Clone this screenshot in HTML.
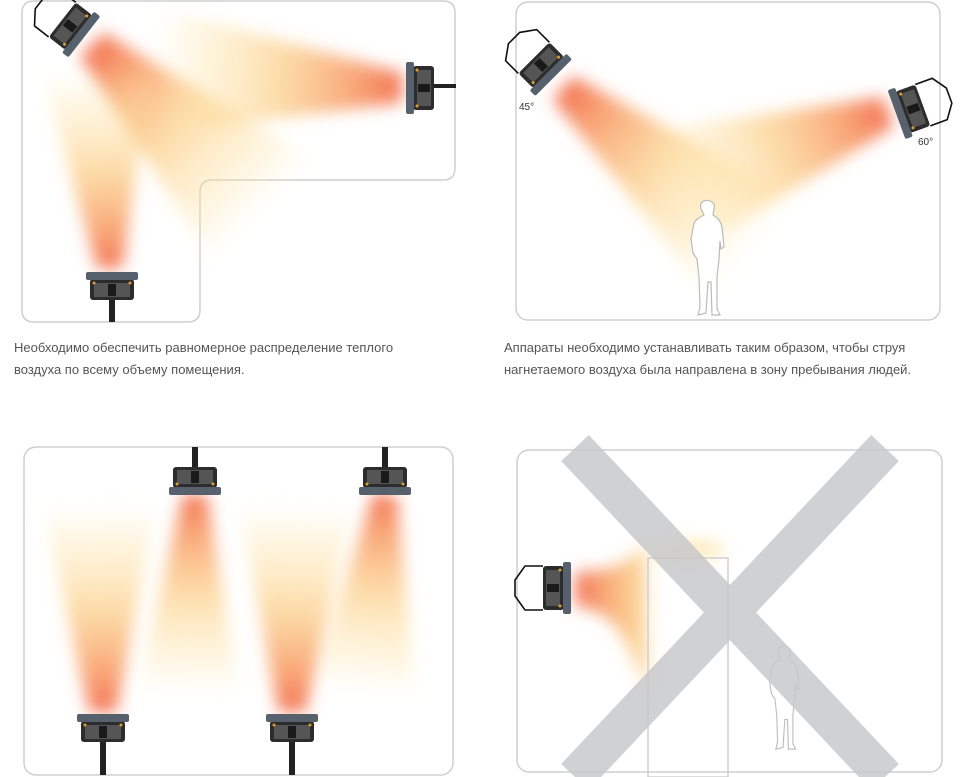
<!DOCTYPE html>
<html><head><meta charset="utf-8"><style>
html,body{margin:0;padding:0;background:#fff;width:976px;height:777px;overflow:hidden}
.cap{position:absolute;font-family:"Liberation Sans",sans-serif;font-size:13px;line-height:22px;color:#555}
</style></head><body>
<svg width="976" height="777" viewBox="0 0 976 777" style="position:absolute;left:0;top:0">
<defs>
<linearGradient id="bg" x1="0" y1="0" x2="1" y2="0">
<stop offset="0" stop-color="#f26340" stop-opacity="0.9"/>
<stop offset="0.2" stop-color="#f78c4e" stop-opacity="0.75"/>
<stop offset="0.5" stop-color="#fbc266" stop-opacity="0.55"/>
<stop offset="0.8" stop-color="#fde2a0" stop-opacity="0.35"/>
<stop offset="1" stop-color="#fdeab0" stop-opacity="0"/>
</linearGradient>
<filter id="bl" x="-30%" y="-30%" width="160%" height="160%"><feGaussianBlur stdDeviation="8"/></filter>
<g id="beam"><polygon points="0,-14 0,14 1,60 1,-60" fill="url(#bg)"/></g>
<g id="heat">
<rect x="-20" y="-22" width="21" height="44" rx="3" fill="#2c2c2c"/>
<rect x="-17" y="-18" width="14" height="36" fill="#555"/>
<rect x="-16" y="-4" width="12" height="8" fill="#1a1a1a"/>
<rect x="0" y="-26" width="8" height="52" rx="2" fill="#56616d"/>
<circle cx="-3" cy="-18" r="1.5" fill="#d9a030"/><circle cx="-3" cy="18" r="1.5" fill="#d9a030"/>
</g>
<g id="brk"><polyline points="-20,-22 -38,-22 -48,-8 -48,8 -38,22 -20,22" fill="none" stroke="#111" stroke-width="1.6"/></g>
<g id="person"><path d="M18,4 C24,2 30,6 28,12 L27,18 C30,20 34,22 36,30 L38,50 L35,52 L34,44 L33,62 L31,80 L31,112 L34,118 L26,118 L25,85 L22,85 L20,116 L12,118 L14,110 L13,80 L11,62 L7,56 L5,42 L8,26 C10,22 14,20 18,18 L15,12 C14,8 15,5 18,4 Z" fill="#fff" stroke="#bbb" stroke-width="1.2"/></g>
</defs>

<!-- Panel 1 -->
<path d="M34,1 H443 Q455,1 455,13 V168 Q455,180 443,180 H212 Q200,180 200,192 V310 Q200,322 188,322 H34 Q22,322 22,310 V13 Q22,1 34,1 Z" fill="none" stroke="#cfcfcf" stroke-width="1.5"/>
<g filter="url(#bl)">
<g transform="translate(92,45) rotate(44) scale(240,1.2)"><use href="#beam"/></g>
<g transform="translate(402,88) rotate(184) scale(250,1.05)"><use href="#beam"/></g>
<g transform="translate(110,268) rotate(-94) scale(200,0.9)"><use href="#beam"/></g>
</g>
<g transform="translate(78,32) rotate(38)"><use href="#brk"/><use href="#heat"/></g>
<rect x="434" y="84" width="22" height="4" fill="#222"/>
<g transform="translate(414,88) rotate(180)"><use href="#heat"/></g>
<rect x="109" y="280" width="6" height="42" fill="#222"/>
<g transform="translate(112,280) rotate(-90)"><use href="#heat"/></g>

<!-- Panel 2 -->
<rect x="516" y="2" width="424" height="318" rx="12" fill="none" stroke="#cfcfcf" stroke-width="1.5"/>
<g filter="url(#bl)">
<g transform="translate(563,88) rotate(40) scale(250,1.1)"><use href="#beam"/></g>
<g transform="translate(888,112) rotate(160) scale(240,1.1)"><use href="#beam"/></g>
</g>
<g transform="translate(548,72) rotate(45)"><use href="#brk"/><use href="#heat"/></g>
<g transform="translate(904,112) rotate(160)"><use href="#brk"/><use href="#heat"/></g>
<g transform="translate(686,197)"><use href="#person"/></g>
<text x="519" y="110" font-family="Liberation Sans,sans-serif" font-size="10" fill="#333">45°</text>
<text x="918" y="145" font-family="Liberation Sans,sans-serif" font-size="10" fill="#333">60°</text>

<!-- Panel 3 -->
<rect x="24" y="447" width="429" height="328" rx="12" fill="none" stroke="#cfcfcf" stroke-width="1.5"/>
<g filter="url(#bl)">
<g transform="translate(195,495) rotate(92) scale(200,0.85)"><use href="#beam"/></g>
<g transform="translate(385,495) rotate(96) scale(200,0.85)"><use href="#beam"/></g>
<g transform="translate(103,712) rotate(-91) scale(210,0.95)"><use href="#beam"/></g>
<g transform="translate(292,712) rotate(-89) scale(210,0.95)"><use href="#beam"/></g>
</g>
<rect x="192" y="447" width="6" height="28" fill="#222"/>
<g transform="translate(195,487) rotate(90)"><use href="#heat"/></g>
<rect x="382" y="447" width="6" height="28" fill="#222"/>
<g transform="translate(385,487) rotate(90)"><use href="#heat"/></g>
<rect x="100" y="722" width="6" height="53" fill="#222"/>
<g transform="translate(103,722) rotate(-90)"><use href="#heat"/></g>
<rect x="289" y="722" width="6" height="53" fill="#222"/>
<g transform="translate(292,722) rotate(-90)"><use href="#heat"/></g>

<!-- Panel 4 -->
<rect x="517" y="450" width="425" height="322" rx="12" fill="none" stroke="#cfcfcf" stroke-width="1.5"/>
<defs><linearGradient id="bg2" x1="0" y1="0" x2="1" y2="0">
<stop offset="0" stop-color="#f15a3a" stop-opacity="0.85"/>
<stop offset="0.6" stop-color="#f8a050" stop-opacity="0.7"/>
<stop offset="1" stop-color="#fcc96e" stop-opacity="0.6"/></linearGradient></defs>
<g filter="url(#bl)">
<path d="M575,572 C615,572 630,560 646,545 L648,690 C630,660 625,610 575,606 Z" fill="url(#bg2)"/>
<ellipse cx="690" cy="550" rx="35" ry="10" fill="#fde3a0" opacity="0.7"/>
</g>
<rect x="648" y="558" width="80" height="219" fill="none" stroke="#cfcfcf" stroke-width="1.5"/>
<g transform="translate(765,643) scale(0.9)"><use href="#person"/></g>
<g transform="translate(563,588)"><use href="#brk"/><use href="#heat"/></g>
<g stroke="#c8c9cb" stroke-width="38" opacity="0.85">
<line x1="575" y1="448" x2="885" y2="777"/>
<line x1="885" y1="448" x2="575" y2="777"/>
</g>
</svg>
<div class="cap" style="left:14px;top:337px">Необходимо обеспечить равномерное распределение теплого<br>воздуха по всему объему помещения.</div>
<div class="cap" style="left:504px;top:337px">Аппараты необходимо устанавливать таким образом, чтобы струя<br>нагнетаемого воздуха была направлена в зону пребывания людей.</div>
</body></html>
